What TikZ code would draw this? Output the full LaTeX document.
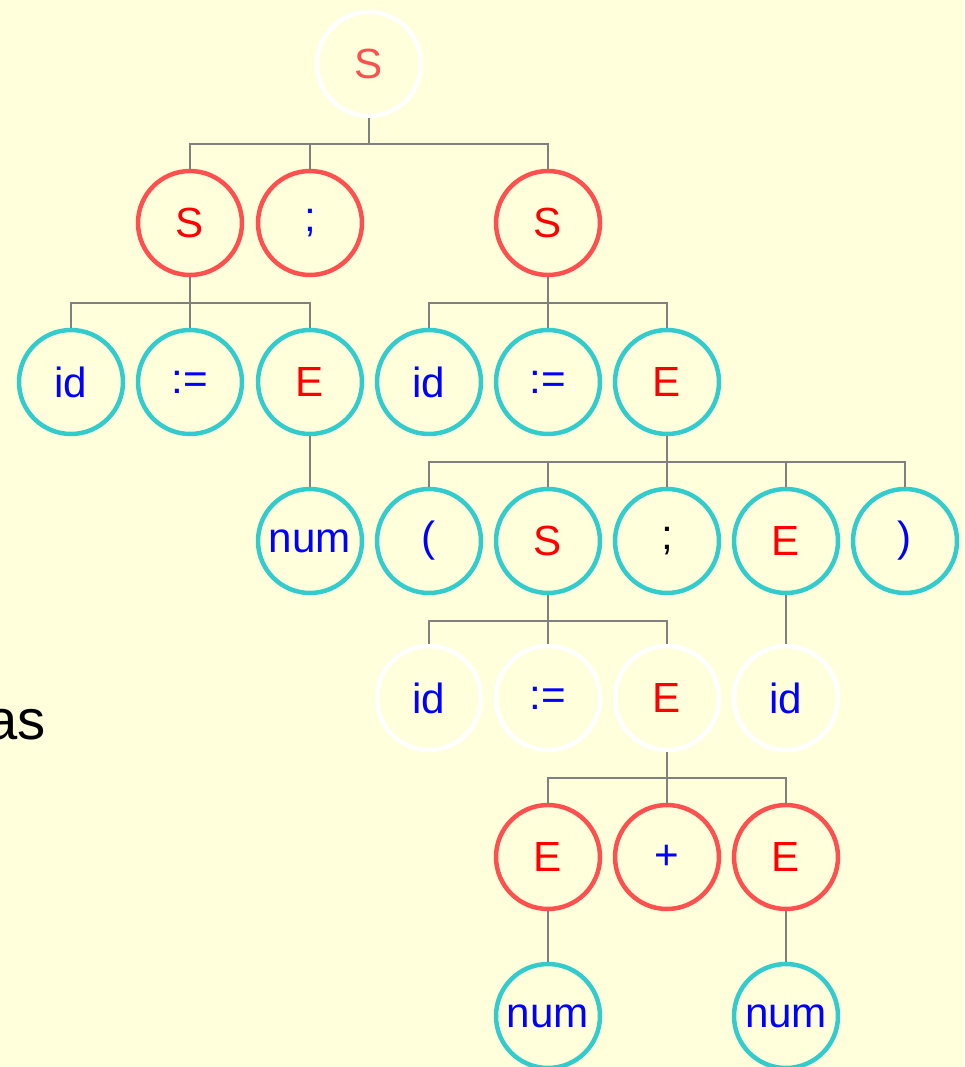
\documentclass[tikz,border=0pt]{standalone}
\usepackage{fontspec}
\setmainfont{Liberation Sans}
\usepackage{xcolor}
\usepackage{tikz}
\usetikzlibrary{positioning}

\definecolor{bg}{HTML}{FFFFDC}
\definecolor{ringred}{HTML}{FF5050}
\definecolor{ringcyan}{HTML}{33CCCC}
\definecolor{txtred}{HTML}{FF0000}
\definecolor{txtblue}{HTML}{0000FF}
\definecolor{wiregray}{HTML}{808080}

\begin{document}
\begin{tikzpicture}[x=0.02cm,y=-0.02cm,
  nd/.style={circle,minimum size=2.08cm,inner sep=0pt,line width=0.09cm,font=\fontsize{24}{28}\selectfont},
  rr/.style={nd,draw=ringred},
  rc/.style={nd,draw=ringcyan},
  rw/.style={nd,draw=white},
  nt/.style={text=txtred},
  tm/.style={text=txtblue},
  wire/.style={draw=wiregray,line width=0.04cm}]
\fill[bg] (0,0) rectangle (964,1067);
\useasboundingbox (0,0) rectangle (964,1067);

\node[anchor=base east,inner sep=0pt,font=\fontsize{32}{36}\selectfont](as) at (46,739) {as};

\node[rw,text=ringred](s0) at (369,64) {S};

\node[rr,nt](s1) at (190,223) {S};
\node[rr,tm](semi1) at (310,223) {;};
\node[rr,nt](s2) at (548,223) {S};

\node[rc,tm](id1) at (71,382) {id};
\node[rc,tm](as1) at (190,382) {:=};
\node[rc,nt](e1) at (310,382) {E};
\node[rc,tm](id2) at (429,382) {id};
\node[rc,tm](as2) at (548,382) {:=};
\node[rc,nt](e2) at (667,382) {E};

\node[rc,tm](num1) at (310,541) {num};
\node[rc,tm](lp) at (429,541) {(};
\node[rc,nt](s3) at (548,541) {S};
\node[rc,text=black](semi2) at (667,541) {;};
\node[rc,nt](e3) at (786,541) {E};
\node[rc,tm](rp) at (905,541) {)};

\node[rw,tm](id3) at (429,698) {id};
\node[rw,tm](as3) at (548,698) {:=};
\node[rw,nt](e4) at (667,698) {E};
\node[rw,tm](id4) at (786,698) {id};

\node[rr,nt](e5) at (548,857) {E};
\node[rr,tm](plus) at (667,857) {+};
\node[rr,nt](e6) at (786,857) {E};

\node[rc,tm](num2) at (548,1016) {num};
\node[rc,tm](num3) at (786,1016) {num};

\foreach \p/\c in {s0/s1,s0/semi1,s0/s2,
                   s1/id1,s1/as1,s1/e1,e1/num1,
                   s2/id2,s2/as2,s2/e2,
                   e2/lp,e2/s3,e2/semi2,e2/e3,e2/rp,
                   s3/id3,s3/as3,s3/e4,e3/id4,
                   e4/e5,e4/plus,e4/e6,e5/num2,e6/num3}
	\draw[wire] (\p.south) -- ++(0,26) -| (\c.north);

\end{tikzpicture}
\end{document}
